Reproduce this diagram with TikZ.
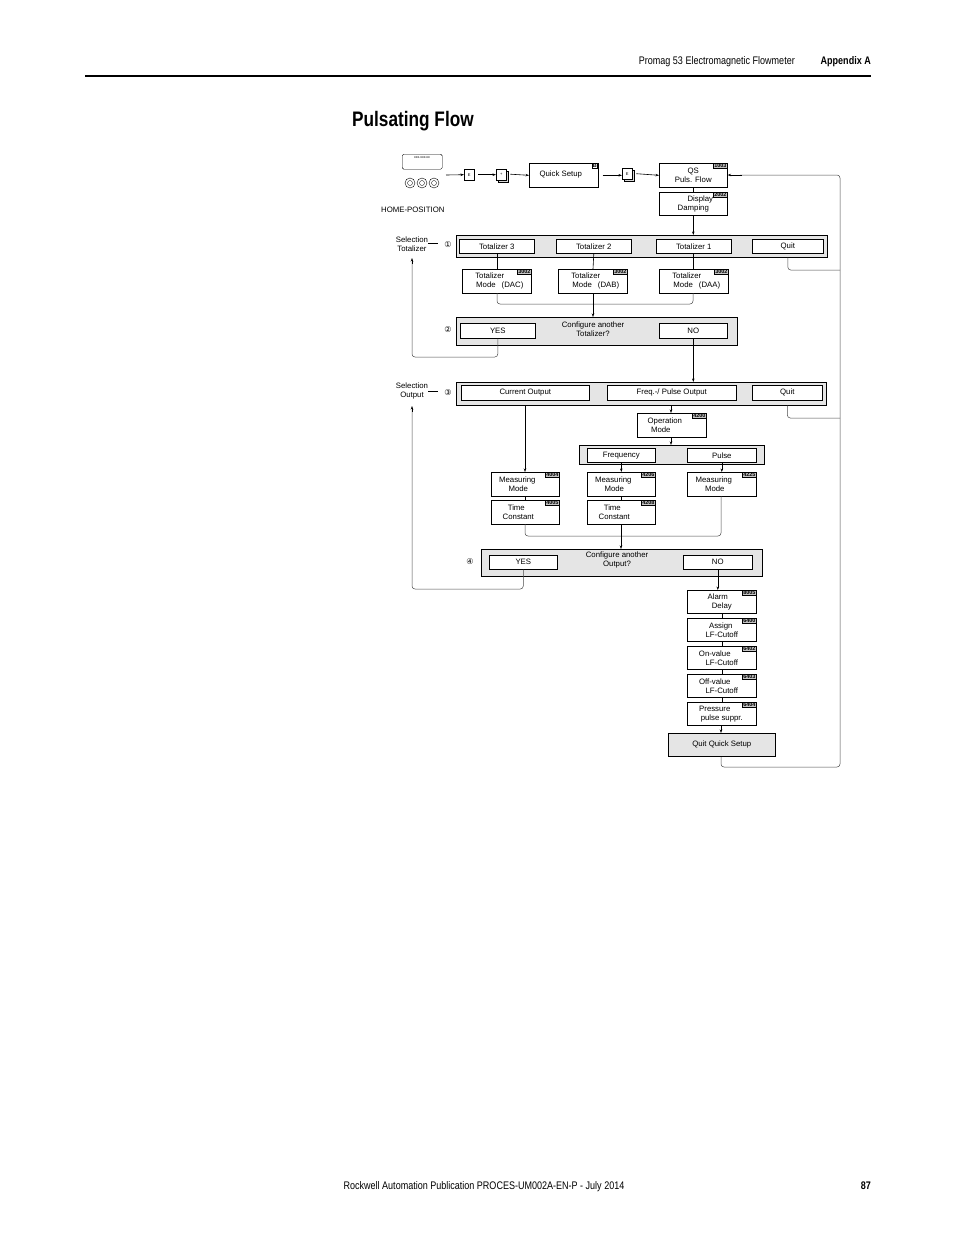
\documentclass[tikz,border=0pt]{standalone}
\usepackage{fontspec}
\setmainfont{Liberation Sans}
\newfontfamily\cond[FakeStretch=0.82]{Liberation Sans}
\newfontfamily\djv{DejaVu Sans}
\usetikzlibrary{arrows.meta}
\newcommand\mybox[7][bx]{\node[#1,anchor=north west,minimum width={#5pt-#3pt},minimum height={#6pt-#4pt}] (#2) at (#3,#4) {#7};}
\newcommand\code[2]{\node[codebox,anchor=north east] at ([xshift=-0.3pt,yshift=-0.3pt]#1.north east) {#2};}
\begin{document}
\begin{tikzpicture}[x=1pt,y=-1pt,
  bx/.style={draw,line width=0.6pt,fill=white,inner sep=0pt,font=\fontsize{7.8}{9}\selectfont,align=center},
  grp/.style={draw,line width=0.6pt,fill=gray!20,inner sep=0pt},
  codebox/.style={draw,fill=gray!45,inner sep=0.6pt,font=\bfseries\fontsize{5.5}{6}\selectfont},
  key/.style={draw,line width=0.4pt,fill=white,inner sep=0pt,font=\fontsize{4}{4}\selectfont,minimum width=10pt,minimum height=11pt},
  ar/.style={-{Stealth[length=3.5pt,width=2.5pt]},line width=0.6pt},
  ln/.style={line width=0.6pt},
  rt/.style={line width=0.5pt,draw=black!70,rounded corners=3pt},
  lbl/.style={font=\fontsize{7.8}{9}\selectfont,align=center,inner sep=0pt}]
\useasboundingbox[fill=white] (0,0) rectangle (954,1235);
% header / footer
\draw[line width=2.6pt] (85,76) -- (871,76);
\node[anchor=base east,font=\cond\fontsize{11}{12}\selectfont,inner sep=0] (hd) at (795,64) {Promag 53 Electromagnetic Flowmeter};
\node[anchor=base east,font=\cond\bfseries\fontsize{11}{12}\selectfont,inner sep=0] (ap) at (871,64) {Appendix A};
\node[anchor=base west,font=\cond\bfseries\fontsize{21}{24}\selectfont,inner sep=0] (title) at (352,126) {Pulsating Flow};
\node[anchor=base,font=\cond\fontsize{11}{12}\selectfont,inner sep=0] (ft) at (484,1189) {Rockwell Automation Publication PROCES-UM002A-EN-P - July 2014};
\node[anchor=base east,font=\cond\bfseries\fontsize{11}{12}\selectfont,inner sep=0] (pg) at (871,1189) {87};
% display icon
\node[draw,line width=0.4pt,rounded corners=1.5pt,minimum width=40pt,minimum height=15pt,anchor=north west,inner sep=0pt] (disp) at (402,154) {};
\node[font=\fontsize{3.5}{4}\selectfont,inner sep=0] at (422,158) {xxx.xxx.xx};
\foreach \cx/\nm in {410/c1,422/c2,434/c3}{\node[draw,line width=0.4pt,circle,minimum size=10pt,inner sep=0] (\nm) at (\cx,183) {};\node[draw,line width=0.3pt,circle,minimum size=5pt,inner sep=0] at (\cx,183) {};}
\node[lbl,anchor=west] (home) at (381,210) {HOME-POSITION};
% keys row
\node[key,anchor=north west] (k1) at (464,169) {E};
\node[key,anchor=north west,fill=gray!30] (k2s) at (498,171) {};
\node[key,anchor=north west] (k2) at (496,169) {+};
\mybox{qs}{529}{163}{598}{187}{\hspace*{-6pt}\raisebox{3pt}{Quick Setup}}
\node[draw,fill=white,inner sep=0.6pt,font=\bfseries\fontsize{5.5}{6}\selectfont,anchor=north east] at (597.7,163.3) {B};
\node[key,anchor=north west,fill=gray!30] (k3s) at (624,170) {};
\node[key,anchor=north west] (k3) at (622,168) {E};
\mybox{qsp}{659}{163}{727}{187}{QS\\Puls. Flow}
\code{qsp}{1003}
\mybox{dd}{659}{192}{727}{215}{\hspace*{14pt}Display\\Damping}
\code{dd}{2002}
\draw[ar] (446,175) -- (k1.west);
\draw[ar] (k1.east) ++(4,0) -- (k2.west);
\draw[ar] (k2.east) ++(4,-0.5) -- (qs.west);
\draw[ar] (qs.east) ++(4,0) -- (k3.west|-qs.east);
\draw[ar] (k3.east) ++(4,0) -- (qsp.west|-qs.east);
\draw[ln] (qsp.south) -- (dd.north);
% group 1
\mybox[grp]{g1}{456}{235}{827}{257}{}
\mybox{t3}{459}{239}{534}{253}{Totalizer 3}
\mybox{t2}{556}{239}{631}{253}{Totalizer 2}
\mybox{t1}{656}{239}{731}{253}{Totalizer 1}
\mybox{q1}{752}{239}{823}{253}{Quit}
\draw[ar] (dd.south) -- (dd.south|-g1.north);
\node[lbl] (selt) at (412,244) {Selection\\Totalizer};
\draw[ln] (selt.east|-0,243) -- (438,243);
\node[inner sep=0,font=\djv\fontsize{8}{8}\selectfont] (n1) at (448,245) {①};
\mybox{m3}{462}{269}{531}{293}{Totalizer\hspace*{14pt}\\\hspace*{6pt}Mode\hspace*{6pt}(DAC)}
\mybox{m2}{558}{269}{627}{293}{Totalizer\hspace*{14pt}\\\hspace*{6pt}Mode\hspace*{6pt}(DAB)}
\mybox{m1}{659}{269}{728}{293}{Totalizer\hspace*{14pt}\\\hspace*{6pt}Mode\hspace*{6pt}(DAA)}
\code{m3}{3002}\code{m2}{3002}\code{m1}{3002}
\draw[ln] (497,253) -- (497,269);
\draw[ln] (t2.south) -- (593,269);
\draw[ln] (693,253) -- (693,269);
% group 2
\mybox[grp]{g2}{456}{317}{737}{345}{}
\mybox{y1}{460}{323}{535}{338}{YES}
\mybox{no1}{659}{323}{727}{338}{NO}
\node[lbl] (cfg1) at (593,329) {Configure another\\Totalizer?};
\node[inner sep=0,font=\djv\fontsize{8}{8}\selectfont] (n2) at (448,330) {②};
\draw[rt] (497,293) |- (593,304) -| (693,293);
\draw[ln] (593,293) -- (593,304);
\draw[ar] (593,304) -- (593,317);
\draw[rt] (y1.south) |- (412,357) -- (412,262);
\draw[ar] (412,264) -- (412,258);
% group 3
\mybox[grp]{g3}{456}{382}{826}{405}{}
\mybox{co}{461}{385}{589}{400}{\raisebox{1.5pt}{Current Output}}
\mybox{fp}{607}{385}{736}{400}{\raisebox{1.5pt}{Freq.-/ Pulse Output}}
\mybox{q3}{752}{385}{822}{400}{Quit}
\draw[ar] (no1.south) -- (no1.south|-g3.north);
\node[lbl] (selo) at (412,391) {Selection\\Output};
\draw[ln] (selo.east|-0,391) -- (438,391);
\node[inner sep=0,font=\djv\fontsize{8}{8}\selectfont] (n3) at (448,393) {③};
\draw[rt] (q1.south|-g1.south) |- (840,270);
\draw[rt] (q3.south|-g3.south) |- (840,418);
\draw[rt] (721,756) |- (840,767) -- (840,175) -- (740,175);
\draw[ar] (742,175) -- (qsp.east|-0,175);
\mybox{om}{637}{413}{706}{437}{Operation\hspace*{14pt}\\Mode\hspace*{22pt}}
\code{om}{4200}
\draw[ar] (671,405) -- (671,413);
\mybox[grp]{g4}{579}{445}{764}{464}{}
\mybox{fr}{587}{448}{655}{462}{Frequency}
\mybox{pu}{687}{448}{756}{462}{Pulse}
\draw[ar] (671,437) -- (671,445);
\mybox{mm1}{491}{472}{559}{496}{Measuring\hspace*{16pt}\\Mode\hspace*{14pt}}
\mybox{mm2}{587}{472}{655}{496}{Measuring\hspace*{16pt}\\Mode\hspace*{14pt}}
\mybox{mm3}{687}{472}{756}{496}{Measuring\hspace*{16pt}\\Mode\hspace*{14pt}}
\code{mm1}{4004}\code{mm2}{4206}\code{mm3}{4225}
\mybox{tc1}{491}{500}{559}{524}{Time\hspace*{18pt}\\Constant\hspace*{14pt}}
\mybox{tc2}{587}{500}{655}{524}{Time\hspace*{18pt}\\Constant\hspace*{14pt}}
\code{tc1}{4005}\code{tc2}{4208}
\draw[ar] (525,405) -- (525,472);
\draw[ar] (fr.south) -- (fr.south|-mm2.north);
\draw[ar] (pu.south) -- (pu.south|-mm3.north);
\draw[ln] (525,496) -- (525,500);
\draw[ln] (621,496) -- (621,500);
% group 5
\mybox[grp]{g5}{481}{549}{762}{576}{}
\mybox{y2}{489}{555}{557}{569}{YES}
\mybox{no2}{683}{555}{752}{569}{NO}
\node[lbl] (cfg2) at (617,560) {Configure another\\Output?};
\node[inner sep=0,font=\djv\fontsize{8}{8}\selectfont] (n4) at (470,562) {④};
\draw[rt] (525,524) |- (621,536) -| (721,496);
\draw[ln] (621,524) -- (621,536);
\draw[ar] (621,536) -- (621,549);
\draw[rt] (y2.south) |- (412,589) -- (412,410);
\draw[ar] (412,412) -- (412,406);
% final chain
\mybox{ad}{687}{590}{756}{613}{\hspace*{6pt}Alarm\hspace*{14pt}\\Delay}
\mybox{as}{687}{618}{756}{641}{\hspace*{10pt}Assign\hspace*{12pt}\\LF-Cutoff}
\mybox{on}{687}{646}{756}{669}{On-value\hspace*{14pt}\\LF-Cutoff}
\mybox{of}{687}{674}{756}{697}{Off-value\hspace*{14pt}\\LF-Cutoff}
\mybox{pr}{687}{702}{756}{725}{Pressure\hspace*{14pt}\\pulse suppr.}
\code{ad}{8005}\code{as}{6400}\code{on}{6402}\code{of}{6403}\code{pr}{6404}
\draw[ar] (no2.south) -- (no2.south|-ad.north);
\draw[ln] (ad.south) -- (as.north);
\draw[ln] (as.south) -- (on.north);
\draw[ln] (on.south) -- (of.north);
\draw[ln] (of.south) -- (pr.north);
\mybox[grp]{qq}{668}{733}{775}{756}{}
\node[lbl] at (qq.center) {Quit Quick Setup};
\draw[ar] (721,725) -- (721,733);
\end{tikzpicture}
\end{document}
